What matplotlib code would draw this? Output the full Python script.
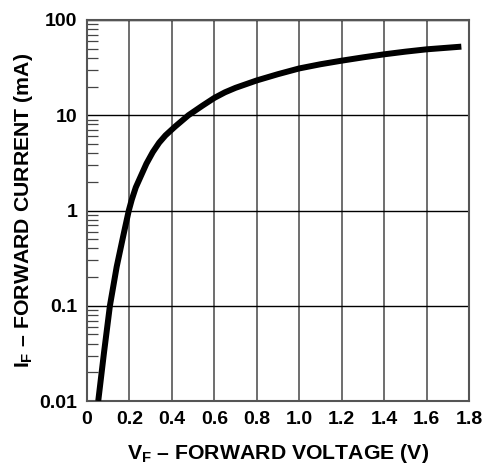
import matplotlib
matplotlib.use("Agg")
import matplotlib.pyplot as plt
from matplotlib.ticker import LogLocator, NullFormatter

plt.rcParams['font.family'] = ['Liberation Sans', 'DejaVu Sans']
plt.rcParams['font.weight'] = 'bold'
plt.rcParams['mathtext.fontset'] = 'custom'
plt.rcParams['mathtext.rm'] = 'Liberation Sans:bold'
plt.rcParams['mathtext.it'] = 'Liberation Sans:bold'
plt.rcParams['mathtext.bf'] = 'Liberation Sans:bold'

# forward voltage (V) and forward current (mA)
volts = [0.053, 0.08, 0.108, 0.14, 0.17, 0.197, 0.211, 0.23, 0.25,
         0.28, 0.31, 0.34, 0.37, 0.415, 0.478, 0.544, 0.6, 0.65, 0.7,
         0.8, 0.9, 1.0, 1.1, 1.2, 1.3, 1.4, 1.5, 1.6, 1.764]
current = [0.01, 0.032, 0.1, 0.257, 0.53, 1.0, 1.3, 1.75, 2.2,
           3.1, 4.1, 5.15, 6.15, 7.6, 10.0, 12.6, 15.2, 17.4, 19.4,
           23.2, 27.0, 31.0, 34.3, 37.4, 40.5, 43.6, 46.5, 49.2, 52.5]

x_ticks = [0, 0.2, 0.4, 0.6, 0.8, 1.0, 1.2, 1.4, 1.6, 1.8]
x_labels = ['0', '0.2', '0.4', '0.6', '0.8', '1.0', '1.2', '1.4', '1.6', '1.8']
y_ticks = [0.01, 0.1, 1, 10, 100]
y_labels = ['0.01', '0.1', '1', '10', '100']


def main():
    fig = plt.figure(figsize=(4.83, 4.67), dpi=100)
    ax = fig.add_axes([0.1801, 0.1413, 0.7909, 0.8159])

    ax.plot(volts, current, color='black', lw=4.3, solid_capstyle='butt',
            solid_joinstyle='round', zorder=3)

    ax.set_yscale('log')
    ax.set_xlim(0, 1.8)
    ax.set_ylim(0.01, 100)

    ax.set_xticks(x_ticks)
    ax.set_xticklabels(x_labels)
    ax.set_yticks(y_ticks)
    ax.set_yticklabels(y_labels)
    ax.yaxis.set_minor_locator(LogLocator(base=10, subs=range(2, 10)))
    ax.yaxis.set_minor_formatter(NullFormatter())

    ax.tick_params(axis='both', which='major', length=0, pad=7,
                   labelsize=14)
    ax.tick_params(axis='y', which='minor', direction='in', length=8,
                   width=0.9, color='#444444')

    ax.grid(True, which='major', color='black', lw=1.0)
    ax.xaxis.grid(True, color='#555555', lw=1.2)

    for sp in ax.spines.values():
        sp.set_color('#555555')
        sp.set_linewidth(1.5)

    ax.set_xlabel(r'$V_F$ – FORWARD VOLTAGE (V)', fontsize=15.3,
                  fontweight='bold', labelpad=10)
    ax.set_ylabel(r'$I_F$ – FORWARD CURRENT (mA)', fontsize=15.3,
                  fontweight='bold', labelpad=3)

    fig.savefig('out.png', dpi=100)


if __name__ == "__main__":
    main()
